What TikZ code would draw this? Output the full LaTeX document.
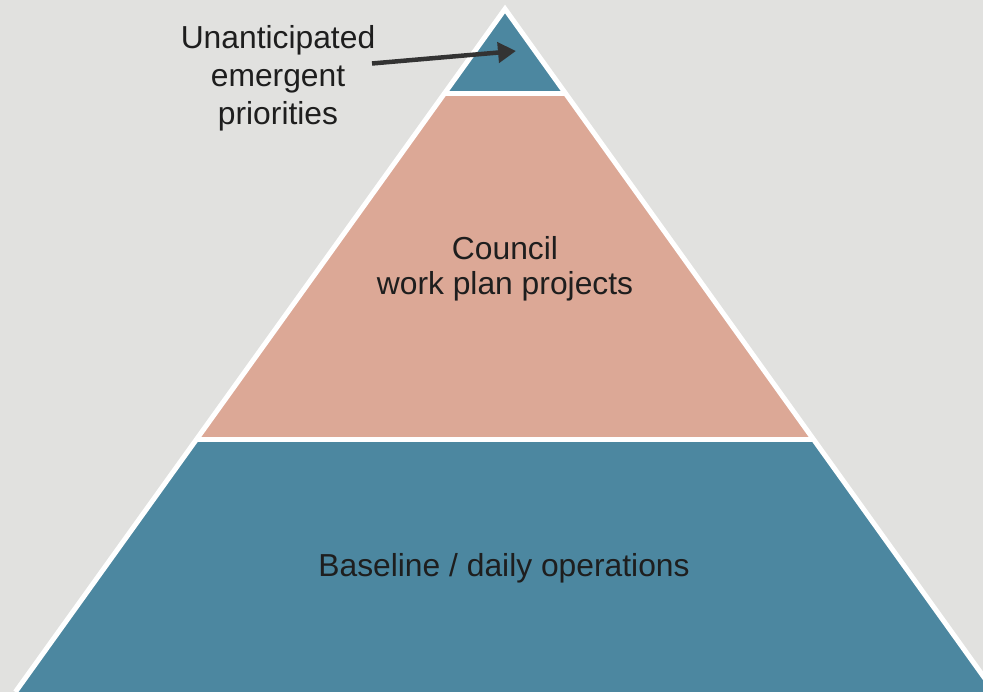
\documentclass[tikz,border=0pt]{standalone}
\usepackage{fontspec}
\setmainfont{Liberation Sans}
\usetikzlibrary{arrows.meta}
\definecolor{bg}{HTML}{E1E1DF}
\definecolor{tealblue}{HTML}{4C87A0}
\definecolor{salmon}{HTML}{DCA896}
\definecolor{txt}{HTML}{1E1E1E}
\definecolor{arrowc}{HTML}{333333}
\tikzset{
  lbl/.style={text=txt, font=\fontsize{31.8}{35}\selectfont, align=center, inner sep=0pt},
  edge/.style={draw=white, line width=5pt, line join=miter},
  pointer/.style={draw=arrowc, line width=4.5pt, -{Triangle[length=18pt,width=20pt]}}
}
\begin{document}
\begin{tikzpicture}[x=1pt,y=-1pt]
\useasboundingbox (0,0) rectangle (983,692);
\fill[bg] (0,0) rectangle (983,692);
\clip (0,0) rectangle (983,692);
% layers
\coordinate (apex) at (505,9);
\coordinate (bl) at (15.4,692);
\coordinate (br) at (994.6,692);
\fill[tealblue] (apex) -- (bl) -- (br) -- cycle;
\fill[salmon] (444.1,94) -- (565.9,94) -- (813.6,439.5) -- (196.4,439.5) -- cycle;
\draw[edge] (bl) -- (apex) -- (br);
\draw[edge] (444.1,94) -- (565.9,94);
\draw[edge] (196.4,439.5) -- (813.6,439.5);
% texts
\node[lbl, font=\fontsize{31.8}{38}\selectfont] (top) at (278,78) {Unanticipated\\emergent\\priorities};
\node[lbl] (mid) at (505,269) {Council\\work plan projects};
\node[lbl] (base) at (504,568) {Baseline / daily operations};
\coordinate (tip) at (516,51);
\draw[pointer] (372,63.5) -- (tip);
\end{tikzpicture}
\end{document}
